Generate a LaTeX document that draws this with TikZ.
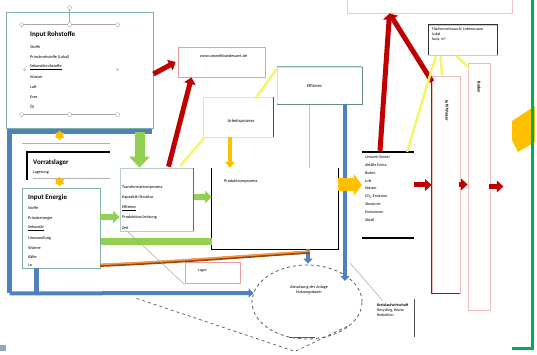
\documentclass[tikz,border=0pt]{standalone}
\usepackage{fontspec}
\setmainfont{Carlito}
\usetikzlibrary{arrows.meta,calc,shapes.geometric}
\definecolor{tealb}{HTML}{7FAFA8}
\definecolor{bluel}{HTML}{4F81BD}
\definecolor{greenl}{HTML}{92D050}
\definecolor{redl}{HTML}{C00000}
\definecolor{orangel}{HTML}{FFC000}
\definecolor{pinkl}{HTML}{E6A0A0}
\definecolor{brownl}{HTML}{984807}
\definecolor{copperl}{HTML}{F79646}
\definecolor{yell}{HTML}{F5F56A}
\definecolor{greenb}{HTML}{00B050}
\tikzset{
  tbox/.style={draw=tealb, line width=0.8pt, inner sep=0pt},
  pbox/.style={draw=pinkl, line width=0.8pt, inner sep=0pt},
  small/.style={font=\fontsize{4.2}{5}\selectfont, inner sep=0pt, anchor=west},
  ttl/.style={font=\fontsize{7}{8}\selectfont\bfseries, inner sep=0pt, anchor=west},
  handle/.style={circle, draw=gray!70, fill=white, line width=0.4pt, minimum size=4pt, inner sep=0pt},
  garrow/.style={draw=greenl, line width=#1, -{Triangle[length=1.1*#1,width=2*#1]}},
  rarrow/.style={draw=redl, line width=#1, -{Triangle[length=1.3*#1,width=2.3*#1]}},
  barrow/.style={draw=bluel, line width=4pt, -{Triangle[length=5pt,width=9pt]}},
  bline/.style={draw=bluel, line width=4.5pt},
  yline/.style={draw=yell, line width=2.5pt},
}
\begin{document}
\begin{tikzpicture}[x=1pt,y=-1pt]
\useasboundingbox (0,0) rectangle (537,355);
\fill[white] (0,0) rectangle (537,355);

% ---------- boxes ----------
\node[tbox, minimum width=147pt, minimum height=116pt] (rohstoffe) at (79.5,70) {};
\node[tbox, minimum width=78pt, minimum height=80pt, fill=white] (energie) at (61,228) {};
\node[draw=tealb!60, line width=0.8pt, minimum width=73pt, minimum height=63pt, inner sep=0pt] (proc) at (156.5,199.5) {};
\node[minimum width=126pt, minimum height=81pt, inner sep=0pt] (prod) at (275,208.5) {};
\node[draw=gray!25, minimum width=70pt, minimum height=40pt, inner sep=0pt] (arbeit) at (238,117) {};
\node[draw=gray!25, minimum width=85pt, minimum height=37pt, inner sep=0pt] (effizienz) at (319.5,85.5) {};
\node[pbox, minimum width=87pt, minimum height=30pt] (url) at (221.5,62) {};
\node[draw=pinkl!60, line width=0.8pt, minimum width=165pt, minimum height=20pt, inner sep=0pt] (toppink) at (429.5,3) {};
\node[draw=gray!40, minimum width=69pt, minimum height=30pt, inner sep=0pt] (flaeche) at (462.5,40) {};
\node[draw=pinkl!70, line width=0.8pt, minimum width=28pt, minimum height=217pt, inner sep=0pt] (pillarA) at (446,184.5) {};
\node[draw=pinkl!70, line width=0.8pt, minimum width=22pt, minimum height=247pt, inner sep=0pt] (pillarB) at (479,186.5) {};
\node[minimum width=52pt, minimum height=86pt, inner sep=0pt] (umwelt) at (388,195) {};
\node[pbox, minimum width=55pt, minimum height=21pt] (lager) at (212.5,272.5) {};
\node[ellipse, draw=gray!70!black, dashed, line width=0.8pt, minimum width=110pt, minimum height=74pt, inner sep=0pt] (ell) at (307,302) {};

% box edge details
\draw[black, line width=1pt] (prod.north west) -- (prod.south west) -- (prod.south east) -- (prod.north east);
\draw[black!70, line width=1pt] (arbeit.north east) -- (arbeit.south east);
\draw[tealb!80!black, line width=1.2pt] (effizienz.south west) -- (effizienz.south east) -- (effizienz.north east);
\draw[tealb, line width=0.6pt] (effizienz.north west) -- (effizienz.north east);
\draw[black!80, line width=1.3pt] (flaeche.north west) -- (flaeche.north east) -- (flaeche.south east);
\draw[black!80, line width=0.6pt] (flaeche.north west) -- (flaeche.south west);
\draw[brownl!70!black, line width=0.9pt] (pillarA.north west) -- (pillarA.south west) -- (pillarA.south east);
\draw[black, line width=1.6pt] (umwelt.north west) -- (umwelt.north east);
\draw[black, line width=1.6pt] (umwelt.south west) -- (umwelt.south east);
\draw[black!60, line width=0.8pt] (proc.north east) -- (proc.south east);

% handles of the text box in the top-left box
\coordinate (h1) at ($(rohstoffe.north west)+(16,13)$);
\coordinate (h3) at ($(rohstoffe.north west)+(112,13)$);
\coordinate (h4) at ($(rohstoffe.north west)+(16,103)$);
\coordinate (h6) at ($(rohstoffe.north west)+(112,103)$);
\draw[gray!70, line width=0.5pt] (h1) -- (h3) (h4) -- (h6);
\draw[gray!70, line width=0.5pt] ($(h1)!0.5!(h3)$) -- ++(0,-17);
\node[handle] (hh1) at (h1) {};
\node[handle] (hh2) at ($(h1)!0.5!(h3)$) {};
\node[handle] (hh3) at (h3) {};
\node[handle] (hh4) at (h4) {};
\node[handle] (hh5) at ($(h4)!0.5!(h6)$) {};
\node[handle] (hh6) at (h6) {};
\node[handle] (hh7) at ($(hh2)+(0,-17)$) {};
\node[handle, minimum size=2pt] (hh8) at ($(h1)!0.5!(h4)+(3,0)$) {};
\node[handle, minimum size=2pt] (hh9) at ($(h3)!0.5!(h6)$) {};

% texts top-left box
\node[ttl] (t1) at (30,35) {Input Rohstoffe};
\node[small] (t2) at (30,47) {Stoffe};
\node[small] (t3) at (30,57) {Primärrohstoffe (Lokal)};
\node[small] (t4) at (30,67) {\underline{Sekundärrohstoffe}};
\node[small] (t5) at (30,77) {Wasser};
\node[small] (t6) at (30,87) {Luft};
\node[small] (t7) at (30,97) {Erze};
\node[small] (t8) at (30,107) {Öl};

% Vorrat
\coordinate (va) at (22,143);
\draw[gray!60, line width=0.6pt] (va) -- ++(88,0);
\draw[black, line width=2.2pt] (27,180) -- (27,152) -- (110,152);
\draw[gray!60, line width=0.6pt] (33,178) -- (110,178);
\node[ttl] (vorrat) at (33,163) {Vorratslager};
\node[small] (vorrat2) at (33,173) {Lagerung};

% Energie texts
\node[ttl] (e1) at (28,198) {Input Energie};
\node[small] (e2) at (28,208) {Stoffe};
\node[small] (e3) at (28,218) {Primärenergie};
\node[small] (e4) at (28,228) {\underline{Sekundär}};
\node[small] (e5) at (28,238) {Umwandlung};
\node[small] (e6) at (28,248) {Wärme};
\node[small] (e7) at (28,257) {Kälte};
\node[small] (e8) at (28,265) {Lo};

% process box texts
\node[small] (p1) at (122,187) {Transformationsprozess};
\node[small] (p2) at (122,197) {Kapazität/Struktur};
\node[small] (p3) at (122,208) {\underline{Effizienz}};
\node[small] (p4) at (122,217) {Produktion/Leistung};
\node[small] (p5) at (122,228) {Zeit};

\node[small] (prodt) at (224,181) {Produktionsprozess};
\node[font=\fontsize{4.5}{5}\selectfont, inner sep=0pt] (arbt) at ($(arbeit.center)+(3,4)$) {Arbeitsprozess};
\node[font=\fontsize{4.5}{5}\selectfont, inner sep=0pt] (efft) at ($(effizienz.center)+(-5,0)$) {Effizienz};
\node[font=\fontsize{4.2}{5}\selectfont, inner sep=0pt] (urlt) at ($(url.center)+(2,-6)$) {www.umweltbundesamt.de};
\node[small, align=left, anchor=north west, font=\fontsize{4}{5}\selectfont] (flt) at ($(flaeche.north west)+(4,3)$) {Flächenverbrauch/ Lebensraum\\Lokal\\ha/a, m²};
\node[font=\fontsize{4.2}{5}\selectfont\bfseries, inner sep=0pt, rotate=-90] (pAt) at ($(pillarA.north)+(1,35)$) {Luft/Wasser};
\node[font=\fontsize{4.2}{5}\selectfont\bfseries, inner sep=0pt, rotate=-90] (pBt) at ($(pillarB.north)+(0,25)$) {Boden};
\node[small, anchor=north west, align=left, font=\fontsize{4}{7.8}\selectfont] (umt) at ($(umwelt.north west)+(3,4)$) {Umwelt/Senke/\\Abfälle Emiss.\\Boden\\Luft\\Wasser\\CO\textsubscript{2}-Emission\\Abwärme\\Emissionen\\Abfall};
\node[font=\fontsize{4}{5}\selectfont, inner sep=0pt] (lagt) at ($(lager.center)+(-10,-2)$) {Lager};
\node[align=center, font=\fontsize{4.2}{5.2}\selectfont, inner sep=0pt] (ellt) at ($(ell.center)+(2,-12)$) {Abnutzung der Anlage\\Nutzungsdauer};
\node[small, anchor=north west, align=left, font=\fontsize{4}{5}\selectfont] (krt) at (377,303) {\textbf{Kreislaufwirtschaft}\\Recycling, Reuse\\Reduktion};
\draw[black!70, line width=0.8pt] ($(krt.north east)+(6,-4)$) -- ++(0,38);

% ---------- blue frame ----------
\coordinate (bstart) at ($(rohstoffe.south)+(72,3)$);
\coordinate (bl) at ($(rohstoffe.south west)+(4,165)$);
\draw[bline, line join=miter] (bstart) -- (bstart -| bl) -- (bl);
\draw[barrow] (bl) -- ($(ell.west)+(2,-9)$);
\draw[bline] ($(energie.south west)+(15,0)$) -- ($(energie.south west)+(15,27)$);
\draw[barrow] ($(prod.south)+(33,0)$) -- ($(ell.north)+(1,-1)$);
\draw[barrow] ($(effizienz.south)+(25.5,0)$) -- ($(ell.center)+(38,-21)$);

% ---------- orange / copper line ----------
\draw[brownl, line width=3pt] ($(energie.south east)+(0,-3)$) .. controls (180,262) and (250,256) .. ($(prod.south)+(35,3)$);
\draw[copperl, line width=1.6pt] ($(energie.south east)+(0,-4)$) .. controls (180,261) and (250,255) .. ($(prod.south)+(35,2)$);

% ---------- green ----------
\draw[garrow=10pt] ($(rohstoffe.south)+(60,4)$) -- ($(proc.north)+(-17,0)$);
\draw[garrow=6pt] ($(energie.east)+(0,-11)$) -- ($(proc.west)+(0,17.5)$);
\draw[garrow=6pt] ($(proc.east)+(1,-2.5)$) -- ($(prod.west)+(0,-11.5)$);
\draw[draw=greenl, line width=7pt] ($(energie.east)+(1,13)$) -- ($(prod.west)+(0,32.5)$);

% ---------- red ----------
\draw[rarrow=5pt] ($(rohstoffe.east)+(0,4)$) -- ($(url.west)+(-2,0)$);
\draw[rarrow=5pt] ($(proc.north)+(12,-1)$) -- ($(url.south)+(-30,0)$);
\coordinate (rtip) at ($(toppink.south)+(-40,0)$);
\draw[rarrow=5pt] ($(umwelt.north)+(-8,-1)$) -- (rtip);
\draw[rarrow=5pt] ($(pillarA.north)+(-14,6)$) -- (rtip);
\draw[rarrow=5pt] ($(umwelt.east)+(0,-10)$) -- ($(pillarA.west)+(0,0.5)$);
\draw[rarrow=5pt] ($(pillarA.east)+(-1,0)$) -- ($(pillarB.west)+(0,-2)$);
\coordinate (rend) at ($(pillarB.east)+(13,0)$);
\draw[rarrow=5pt] ($(pillarB.east)+(-1,0)$) -- (rend);

% ---------- orange ----------
\draw[draw=orangel, line width=4pt, -{Triangle[length=6pt,width=10pt]}] ($(arbeit.south)+(-8,0)$) -- ($(prod.north)+(-45,0)$);
\draw[draw=orangel, line width=13pt, -{Triangle[length=8pt,width=22pt]}] ($(prod.east)+(0,-23.5)$) -- ($(umwelt.west)+(0,-10)$);

% ---------- yellow lines ----------
\draw[yline] ($(proc.north)+(24,-2)$) -- ($(arbeit.south west)+(2,0)$);
\draw[yline] ($(arbeit.north east)+(-18,2)$) -- ($(effizienz.north west)+(0,2)$);
\draw[draw=yell!70!olive, line width=1.6pt] ($(effizienz.south)+(-10,1)$) -- ($(prod.north)+(34.5,0)$);
\draw[yline] ($(flaeche.south west)+(8,1)$) -- ($(umwelt.north)+(19,0)$);
\draw[yline] ($(flaeche.south)+(-22,1)$) -- ($(pillarA.north)+(-4,0)$);
\draw[yline] ($(flaeche.south)+(-6,1)$) -- ($(pillarB.north west)+(2,6)$);

% ---------- thin gray / dashed ----------
\draw[gray!70, line width=0.5pt] ($(proc.south west)+(8,0)$) -- ($(lager.west)+(0,12)$);
\draw[gray!70, line width=0.5pt] ($(ell.center)+(43,-39)$) -- ($(krt.north west)+(6,-2)$);
\coordinate (dv) at ($(ell.south)+(-12,12)$);
\draw[gray!70!black, dashed, line width=0.7pt] ($(bl)+(127,5)$) -- (dv) -- ($(ell.center)+(41,24)$);
\draw[gray!70!black, line width=1.2pt] ($(ell.south)+(-18,-2)$) -- ($(ell.south)+(8,-2)$);

% ---------- yellow stars ----------
\node[star, star points=6, fill=orangel, minimum size=10pt, inner sep=0pt] (s1) at ($(rohstoffe.south west)+(54,7)$) {};
\node[star, star points=6, fill=orangel, minimum size=10pt, inner sep=0pt] (s2) at ($(energie.north west)+(38,-6)$) {};

% ---------- right decoration ----------
\fill[orangel] (512,121) -- (535,106) -- (535,142) -- (518,152) -- (512,140) -- cycle;
\coordinate (gb) at (532,-2);
\draw[greenb, line width=3pt] (gb) -- ($(gb)+(0,350)$) -- ($(gb)+(-20,350)$);
\fill[bluel!60!gray!70] (0,345) rectangle (6,351);
\end{tikzpicture}
\end{document}
